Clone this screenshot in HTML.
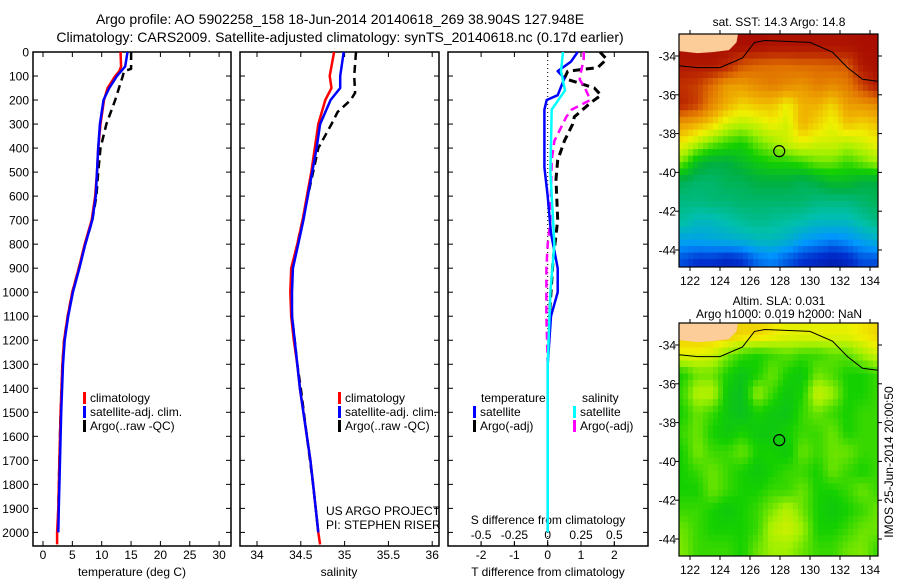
<!DOCTYPE html>
<html><head><meta charset="utf-8">
<style>
html,body{margin:0;padding:0;background:#fff;}
svg{display:block;font-family:"Liberation Sans",sans-serif;}
</style></head>
<body>
<svg id="fig" width="900" height="580" viewBox="0 0 900 580" xmlns="http://www.w3.org/2000/svg">
<rect width="900" height="580" fill="#fff"/>
<text x="340" y="24" font-size="14" text-anchor="middle">Argo profile: AO 5902258_158 18-Jun-2014 20140618_269 38.904S 127.948E</text>
<text x="340" y="42" font-size="14" text-anchor="middle">Climatology: CARS2009. Satellite-adjusted climatology: synTS_20140618.nc (0.17d earlier)</text>
<g id="plots"></g>
<text x="779" y="26" font-size="12" text-anchor="middle">sat. SST: 14.3 Argo: 14.8</text>
<text x="779" y="305" font-size="12" text-anchor="middle">Altim. SLA: 0.031</text>
<text x="779" y="318" font-size="12" text-anchor="middle">Argo h1000: 0.019 h2000: NaN</text>
<text transform="translate(893,462) rotate(-90)" font-size="12" text-anchor="middle">IMOS 25-Jun-2014 20:00:50</text>
</svg>
<script>
// ---------- DATA ----------
const depthTicks=[0,100,200,300,400,500,600,700,800,900,1000,1100,1200,1300,1400,1500,1600,1700,1800,1900,2000];
const tempTicks=[0,5,10,15,20,25,30];
const salTicks=[34,34.5,35,35.5,36];
const salTickLabels=["34","34.5","35","35.5","36"];
const tdiffTicks=[-2,-1,0,1,2];
const sdiffTicks=[-0.5,-0.25,0,0.25,0.5];
const sdiffTickLabels=["-0.5","-0.25","0","0.25","0.5"];
const tempClim=[[0,13.2],[60,13.3],[80,13],[100,12.3],[150,11],[200,10.4],[300,9.8],[400,9.4],[500,9.2],[600,8.9],[700,8.3],[800,7.1],[900,6.1],[1000,5],[1100,4.2],[1200,3.6],[1300,3.3],[1500,3],[1700,2.8],[1900,2.6],[2000,2.4],[2050,2.4]];
const tempSat=[[0,14.4],[60,14],[80,13.3],[100,12.6],[150,11.3],[200,10.3],[300,9.7],[400,9.4],[500,9.2],[600,9],[700,8.4],[800,7.2],[900,6.2],[1000,5.1],[1100,4.3],[1200,3.7],[1300,3.4],[1500,3.1],[1700,2.9],[1900,2.7],[2000,2.6]];
const tempArgo=[[0,15],[70,15],[80,13.8],[100,13.6],[200,12.3],[300,10.8],[400,9.8],[500,9.4],[600,9.1],[700,8.4],[800,7.2],[900,6.1],[1000,5],[1100,4.2],[1200,3.6],[1300,3.3],[1500,3],[1700,2.8],[1900,2.6],[2000,2.5]];
const salClim=[[0,34.88],[100,34.83],[150,34.85],[200,34.78],[300,34.7],[400,34.66],[500,34.62],[600,34.57],[700,34.52],[800,34.46],[900,34.39],[1000,34.38],[1100,34.39],[1200,34.42],[1300,34.46],[1400,34.49],[1500,34.53],[1600,34.57],[1700,34.61],[1800,34.64],[1900,34.67],[2000,34.7],[2050,34.72]];
const salSat=[[0,34.99],[100,34.95],[150,34.95],[200,34.84],[300,34.72],[400,34.68],[500,34.63],[600,34.58],[700,34.53],[800,34.47],[900,34.41],[1000,34.4],[1100,34.4],[1200,34.43],[1300,34.46],[1400,34.49],[1500,34.53],[1600,34.57],[1700,34.61],[1800,34.64],[1900,34.67],[2000,34.7]];
const salArgo=[[0,35.13],[100,35.11],[170,35.12],[200,35.07],[250,34.92],[300,34.85],[400,34.7],[500,34.64],[600,34.58],[700,34.52],[800,34.46],[900,34.4],[1000,34.39],[1100,34.4],[1200,34.43],[1300,34.46],[1400,34.5],[1600,34.57],[1800,34.64],[2000,34.7]];
const tdiffSat=[[0,0.9],[40,0.7],[80,0.3],[110,0.5],[180,0.3],[200,-0.03],[240,-0.1],[400,-0.1],[480,-0.1],[600,0],[755,0.1],[900,0.3],[1000,0.3],[1100,0.1],[1300,0],[2000,0]];
const tdiffArgo=[[0,1.57],[30,1.77],[65,1.5],[80,0.6],[110,0.5],[150,1.4],[180,1.6],[210,1.3],[270,0.8],[300,0.75],[370,0.5],[450,0.3],[530,0.25],[700,0.3],[870,0.16],[1000,0.1],[1100,0.05]];
const sdiffSat=[[0,0.115],[80,0.1],[160,0.13],[240,0.03],[500,0.02],[800,0.05],[1000,0.02],[1300,0],[2000,0]];
const sdiffArgo=[[0,0.27],[30,0.27],[83,0.25],[115,0.24],[150,0.28],[200,0.32],[240,0.18],[270,0.14],[370,0.05],[450,0.03],[700,0.02],[800,0],[900,-0.01],[1100,-0.01],[1300,0]];
// SST map grid (colour index 0..1), rows lat -33.5..-44.5, cols lon 121.5..134.5
const sstGrid=[
[0.97,0.97,0.97,0.97,0.97,0.97,0.96,0.96,0.96,0.96,0.96,0.96,0.97,0.97],
[0.95,0.95,0.95,0.92,0.85,0.83,0.82,0.82,0.83,0.83,0.84,0.85,0.95,0.97],
[0.9,0.88,0.82,0.75,0.75,0.78,0.8,0.78,0.76,0.8,0.78,0.8,0.88,0.95],
[0.92,0.88,0.78,0.72,0.68,0.7,0.7,0.65,0.72,0.72,0.68,0.75,0.76,0.78],
[0.75,0.72,0.68,0.62,0.6,0.62,0.65,0.62,0.72,0.68,0.64,0.7,0.68,0.7],
[0.65,0.6,0.55,0.52,0.5,0.55,0.58,0.62,0.64,0.62,0.62,0.6,0.62,0.65],
[0.55,0.45,0.42,0.42,0.45,0.48,0.5,0.5,0.52,0.55,0.55,0.52,0.55,0.58],
[0.4,0.38,0.38,0.4,0.4,0.42,0.42,0.42,0.4,0.42,0.45,0.45,0.42,0.42],
[0.36,0.36,0.37,0.37,0.38,0.38,0.38,0.38,0.38,0.36,0.36,0.36,0.38,0.4],
[0.33,0.3,0.3,0.32,0.34,0.35,0.34,0.33,0.32,0.3,0.3,0.3,0.33,0.36],
[0.25,0.25,0.26,0.27,0.28,0.3,0.3,0.28,0.24,0.22,0.2,0.22,0.25,0.28],
[0.15,0.12,0.12,0.1,0.12,0.18,0.2,0.16,0.12,0.1,0.08,0.1,0.15,0.15]];
const slaGrid=[
[0.7,0.7,0.7,0.7,0.68,0.68,0.66,0.64,0.64,0.64,0.64,0.64,0.66,0.68],
[0.64,0.64,0.62,0.56,0.52,0.5,0.52,0.54,0.52,0.52,0.54,0.54,0.58,0.62],
[0.5,0.55,0.55,0.5,0.47,0.5,0.55,0.5,0.48,0.55,0.53,0.5,0.5,0.52],
[0.52,0.6,0.6,0.48,0.46,0.58,0.52,0.48,0.5,0.62,0.58,0.5,0.5,0.52],
[0.5,0.55,0.52,0.48,0.46,0.5,0.48,0.47,0.52,0.55,0.52,0.5,0.52,0.52],
[0.52,0.55,0.5,0.48,0.5,0.48,0.48,0.5,0.52,0.52,0.55,0.5,0.52,0.52],
[0.5,0.56,0.52,0.52,0.55,0.5,0.5,0.48,0.55,0.52,0.55,0.55,0.52,0.52],
[0.5,0.52,0.55,0.52,0.5,0.48,0.5,0.52,0.52,0.5,0.55,0.52,0.5,0.52],
[0.5,0.5,0.55,0.52,0.5,0.5,0.52,0.52,0.55,0.5,0.5,0.52,0.55,0.52],
[0.52,0.52,0.5,0.48,0.5,0.52,0.56,0.6,0.55,0.5,0.48,0.5,0.52,0.55],
[0.55,0.52,0.5,0.5,0.5,0.52,0.6,0.62,0.58,0.5,0.5,0.52,0.55,0.55],
[0.56,0.52,0.52,0.52,0.5,0.55,0.58,0.58,0.55,0.52,0.52,0.55,0.56,0.52]];
const argoLon=127.948, argoLat=-38.904;
const lonTicks=[122,124,126,128,130,132,134];
const latTicks=[-34,-36,-38,-40,-42,-44];

// ---------- DRAWING ----------
const NS="http://www.w3.org/2000/svg";
const root=document.getElementById('plots');
function mk(tag,attrs,parent){const e=document.createElementNS(NS,tag);for(const k in attrs)e.setAttribute(k,attrs[k]);(parent||root).appendChild(e);return e;}
const yD=d=>52+d*0.2402;
const P1={l:33,r:231}, P2={l:240,r:439}, P3={l:448,r:648}, TOP=52, BOT=546;
const xT=t=>43+t*5.87;
const xS=s=>257+(s-34)*87.6;
const xTd=t=>547.7+t*33.3;
const xSd=s=>547.7+s*133.2;

function frame(P,name){
  const r=mk('rect',{x:P.l,y:TOP,width:P.r-P.l,height:BOT-TOP,fill:'none',stroke:'#000','stroke-width':1.5});
  
  
  depthTicks.forEach(d=>{
    mk('line',{x1:P.l,x2:P.l+5,y1:yD(d),y2:yD(d),stroke:'#000'});
    mk('line',{x1:P.r,x2:P.r-5,y1:yD(d),y2:yD(d),stroke:'#000'});
  });
}
frame(P1,'temperature-panel');frame(P2,'salinity-panel');frame(P3,'difference-panel');
depthTicks.forEach(d=>{
  const t=mk('text',{x:29,y:yD(d)+4.5,'font-size':12,'text-anchor':'end'});t.textContent=d;
  
  
});
function xticks(ticks,labels,fx,P,ly){
  ticks.forEach((v,i)=>{
    const x=fx(v);
    mk('line',{x1:x,x2:x,y1:BOT,y2:BOT-5,stroke:'#000'});
    mk('line',{x1:x,x2:x,y1:TOP,y2:TOP+5,stroke:'#000'});
    const t=mk('text',{x:x,y:ly,'font-size':12,'text-anchor':'middle'});t.textContent=labels[i];
    
    
  });
}
xticks(tempTicks,tempTicks.map(String),xT,P1,559);
xticks(salTicks,salTickLabels,xS,P2,559);
xticks(tdiffTicks,tdiffTicks.map(String),xTd,P3,559);
sdiffTicks.forEach((v,i)=>{
  const x=xSd(v);
  mk('line',{x1:x,x2:x,y1:BOT,y2:BOT-4,stroke:'#000'});
  const t=mk('text',{x:x,y:539,'font-size':12,'text-anchor':'middle'});t.textContent=sdiffTickLabels[i];
  
  
});
function label(x,y,txt,name,anchor){const t=mk('text',{x:x,y:y,'font-size':12,'text-anchor':anchor||'middle'});t.textContent=txt;
  
  return t;}
label(132,576,'temperature (deg C)','temperature-axis-title');
label(339,576,'salinity','salinity-axis-title');
label(548,576,'T difference from climatology','t-diff-axis-title');
label(548,524,'S difference from climatology','s-diff-axis-title');
label(326,515,'US ARGO PROJECT','project-label','start');
label(326,529,'PI: STEPHEN RISER','pi-label','start');
mk('line',{x1:xTd(0),x2:xTd(0),y1:TOP,y2:BOT,stroke:'#000','stroke-dasharray':'1,3'});

function line(data,fx,color,dash,name,w){
  const pts=data.map(p=>fx(p[1]).toFixed(1)+','+yD(p[0]).toFixed(1)).join(' ');
  const a={points:pts,fill:'none',stroke:color,'stroke-width':w||2.5,'stroke-linejoin':'round'};
  if(dash)a['stroke-dasharray']=dash;
  const e=mk('polyline',a);
  
  
}
line(tempArgo,xT,'#000','8,5','temp-argo-line');
line(tempClim,xT,'#f00',null,'temp-climatology-line');
line(tempSat,xT,'#00f',null,'temp-satellite-line');
line(salArgo,xS,'#000','8,5','sal-argo-line');
line(salClim,xS,'#f00',null,'sal-climatology-line');
line(salSat,xS,'#00f',null,'sal-satellite-line');
line(tdiffArgo,xTd,'#000','8,5','tdiff-argo-line',3);
line(sdiffArgo,xSd,'#f0f','8,5','sdiff-argo-line');
line(tdiffSat,xTd,'#00f',null,'tdiff-satellite-line');
line(sdiffSat,xSd,'#0ff',null,'sdiff-satellite-line');

function legend(x,y,items,name){
  items.forEach((it,i)=>{
    const yy=y+i*14;
    if(it[1])mk('rect',{x:x,y:yy-10,width:3,height:12,fill:it[1]});
    const t=mk('text',{x:x+(it[1]?7:0),y:yy,'font-size':12});t.textContent=it[0];
    
    
  });
}
legend(83,402,[['climatology','#f00'],['satellite-adj. clim.','#00f'],['Argo(..raw -QC)','#000']],'temp-legend-entry');
legend(338,402,[['climatology','#f00'],['satellite-adj. clim.','#00f'],['Argo(..raw -QC)','#000']],'sal-legend-entry');
legend(481,402,[['temperature',null]],'diff-legend-entry');
legend(473,416,[['satellite','#00f'],['Argo(-adj)','#000']],'diff-legend-entry');
legend(582,402,[['salinity',null]],'diff-legend-entry');
legend(573,416,[['satellite','#0ff'],['Argo(-adj)','#f0f']],'diff-legend-entry');

// ---------- MAPS ----------
const cmapStops=[[0,[0,0,128]],[0.12,[0,48,208]],[0.22,[0,150,255]],[0.32,[0,192,170]],[0.42,[0,176,64]],[0.5,[20,208,0]],[0.58,[160,240,0]],[0.65,[240,240,0]],[0.72,[240,176,0]],[0.82,[224,112,0]],[0.9,[192,48,0]],[1,[160,0,0]]];
function cmap(v){
  v=Math.max(0,Math.min(1,v));
  for(let i=1;i<cmapStops.length;i++){
    if(v<=cmapStops[i][0]){
      const a=cmapStops[i-1],b=cmapStops[i],t=(v-a[0])/(b[0]-a[0]);
      return 'rgb('+[0,1,2].map(k=>Math.round(a[1][k]+(b[1][k]-a[1][k])*t)).join(',')+')';
    }
  }
  return 'rgb(160,0,0)';
}
function drawMap(top,grid,name){
  const L=679,R=878,B=top+233;
  const lonX=lon=>690+(lon-122)*15;
  const latY=lat=>top+22+(-34-lat)*19.4;
  const g=mk('g',{});
  
  
  const sub=3;
  const val=(r,c)=>{r=Math.max(0,Math.min(11,r));c=Math.max(0,Math.min(13,c));return grid[r][c];};
  for(let lat=-32.8;lat>-45;lat-=1/sub){
    for(let lon=121.2;lon<134.6;lon+=1/sub){
      const fr=(-33.5-(lat-0.5/sub)), fc=(lon+0.5/sub-121.5);
      const r0=Math.floor(fr), c0=Math.floor(fc), ar=fr-r0, ac=fc-c0;
      const v=val(r0,c0)*(1-ar)*(1-ac)+val(r0,c0+1)*(1-ar)*ac+val(r0+1,c0)*ar*(1-ac)+val(r0+1,c0+1)*ar*ac;
      const x=Math.max(L,lonX(lon)), y=Math.max(top,latY(lat));
      mk('rect',{x:x.toFixed(1),y:y.toFixed(1),width:(Math.min(R,lonX(lon+1/sub))-x+0.4).toFixed(1),height:(Math.min(B,latY(lat-1/sub))-y+0.4).toFixed(1),fill:cmap(v)},g);
    }
  }
  // land
  mk('polygon',{points:[[121.27,-32.87],[125.2,-32.87],[125.1,-33.3],[124.6,-33.7],[123.5,-33.8],[122.5,-33.85],[121.27,-33.75]].map(p=>lonX(p[0])+','+latY(p[1])).join(' '),fill:'#fccc99'},g);
  mk('polyline',{points:[[121.27,-34.5],[122.5,-34.6],[124,-34.6],[125.5,-34.1],[126.3,-33.3],[127,-33.2],[130,-33.3],[131.5,-33.8],[132.5,-34.6],[133.5,-35.2],[134.53,-35.3]].map(p=>lonX(p[0])+','+latY(p[1])).join(' '),fill:'none',stroke:'#000','stroke-width':1},g);
  mk('rect',{x:L,y:top,width:R-L,height:B-top,fill:'none',stroke:'#000','stroke-width':1.2},g);
  lonTicks.forEach(v=>{
    mk('line',{x1:lonX(v),x2:lonX(v),y1:B,y2:B+4,stroke:'#000'},g);
    mk('line',{x1:lonX(v),x2:lonX(v),y1:top,y2:top-4,stroke:'#000'},g);
    const t=mk('text',{x:lonX(v),y:B+18,'font-size':12,'text-anchor':'middle'},g);t.textContent=v;
  });
  latTicks.forEach(v=>{
    mk('line',{x1:L,x2:L-4,y1:latY(v),y2:latY(v),stroke:'#000'},g);
    mk('line',{x1:R,x2:R+4,y1:latY(v),y2:latY(v),stroke:'#000'},g);
    const t=mk('text',{x:L-3,y:latY(v)+4.5,'font-size':12,'text-anchor':'end'},g);t.textContent=v;
  });
  const c=mk('circle',{cx:lonX(argoLon),cy:latY(argoLat),r:5.5,fill:'none',stroke:'#000','stroke-width':1.2},g);
  
  
}
drawMap(34,sstGrid,'sst-map');
drawMap(323,slaGrid,'sla-map');
</script>
</body></html>
